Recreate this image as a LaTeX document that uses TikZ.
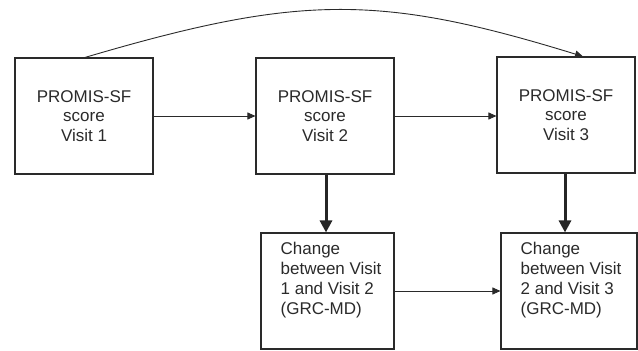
\documentclass[tikz,border=0pt]{standalone}
\usepackage{fontspec}
\setmainfont{Liberation Sans}
\usetikzlibrary{arrows.meta}
\definecolor{ink}{HTML}{2A2A2A}
\begin{document}
\begin{tikzpicture}[x=1pt,y=-1pt,
  box/.style={draw=ink, line width=1.1pt, inner sep=0pt, align=center,
    font=\fontsize{17}{19.5}\selectfont, text=ink},
  lowtext/.style={inner sep=0pt, align=left, anchor=north west,
    font=\fontsize{17}{20}\selectfont, text=ink},
  thin/.style={draw=ink, line width=0.9pt, -{Triangle[length=8pt,width=7pt]}},
  thick/.style={draw=ink!90!black, line width=3pt, -{Triangle[length=12pt,width=12pt]}}]
\useasboundingbox (0,0) rectangle (638,351);
\node[box, minimum width=138, minimum height=116] (b1) at (84,116) {PROMIS-SF\\score\\Visit 1};
\node[box, minimum width=138, minimum height=116] (b2) at (325,116) {PROMIS-SF\\score\\Visit 2};
\node[box, minimum width=138, minimum height=116] (b3) at (566,115) {PROMIS-SF\\score\\Visit 3};
\node[box, minimum width=133, minimum height=116] (l1) at (327.5,291) {};
\node[box, minimum width=136, minimum height=116] (l2) at (569,291) {};
\node[lowtext] (t1) at ([xshift=20,yshift=-10]l1.north west) {Change\\between Visit\\1 and Visit 2\\(GRC-MD)};
\node[lowtext] (t2) at ([xshift=20,yshift=-10]l2.north west) {Change\\between Visit\\2 and Visit 3\\(GRC-MD)};
\coordinate (c1) at (b1.north -| 85,0);
\coordinate (c3) at (b3.north -| 583,0);
\draw[thin] (c1) .. controls (300,-6) and (380,-6) .. (c3);
\draw[thin] (b1.east) -- (b2.west);
\draw[thin] (b2.east) -- (b2.east -| b3.west);
\draw[thin] (l1.east) -- (l2.west);
\coordinate (d2) at (b2.south -| 326,0);
\coordinate (d3) at (b3.south -| 565,0);
\draw[thick] (d2) -- (d2 |- l1.north);
\draw[thick] (d3) -- (d3 |- l2.north);
\end{tikzpicture}
\end{document}
